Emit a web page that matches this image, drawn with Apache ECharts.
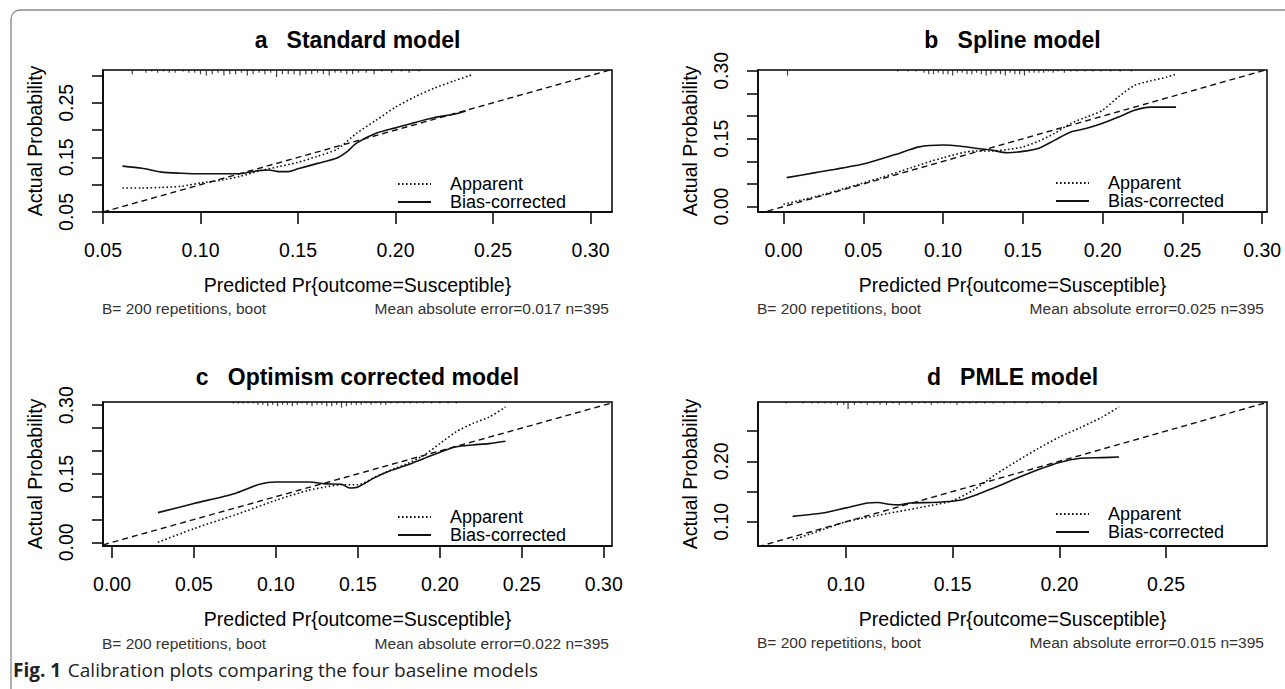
<!DOCTYPE html>
<html>
<head>
<meta charset="utf-8">
<script src="https://cdn.jsdelivr.net/npm/echarts@6/dist/echarts.min.js"></script>
<style>
html,body{margin:0;padding:0;background:#fff;}
#chart{width:1285px;height:689px;}
</style>
</head>
<body>
<div id="chart"></div>
<script>
// ---------- DATA ----------
const titles = ['a   Standard model', 'b   Spline model', 'c   Optimism corrected model', 'd   PMLE model'];
const maeValues = ['0.017', '0.025', '0.022', '0.015'];
const nObs = 395;
const bootReps = 200;

// axis ranges
const xRangeA = [0.05, 0.311], yRangeA = [0.05, 0.31];
const xRangeB = [-0.016, 0.303], yRangeB = [-0.012, 0.302];
const xRangeC = [-0.0055, 0.305], yRangeC = [-0.008, 0.307];
const xRangeD = [0.0588, 0.2973], yRangeD = [0.06, 0.298];

// ticks & labels
const xTicksA = [0.05, 0.10, 0.15, 0.20, 0.25, 0.30];
const yTicksA = [0.05, 0.10, 0.15, 0.20, 0.25, 0.30];
const yLabelsA = [0.05, 0.15, 0.25];
const xTicksB = [0.00, 0.05, 0.10, 0.15, 0.20, 0.25, 0.30];
const yTicksB = [0.00, 0.05, 0.10, 0.15, 0.20, 0.25, 0.30];
const yLabelsB = [0.00, 0.15, 0.30];
const xTicksC = [0.00, 0.05, 0.10, 0.15, 0.20, 0.25, 0.30];
const yTicksC = [0.00, 0.05, 0.10, 0.15, 0.20, 0.25, 0.30];
const yLabelsC = [0.00, 0.15, 0.30];
const xTicksD = [0.10, 0.15, 0.20, 0.25];
const yTicksD = [0.10, 0.15, 0.20, 0.25];
const yLabelsD = [0.10, 0.20];

// ideal lines
const idealA = [[0.05, 0.05], [0.311, 0.311]];
const idealB = [[-0.016, -0.016], [0.303, 0.303]];
const idealC = [[-0.0055, -0.0055], [0.305, 0.305]];
const idealD = [[0.0588, 0.0588], [0.2973, 0.2973]];

// apparent (dotted) and bias-corrected (solid) calibration curves
const apparentA = [[0.06,0.094],[0.07,0.094],[0.08,0.095],[0.09,0.097],[0.10,0.103],[0.11,0.108],[0.12,0.115],[0.13,0.125],[0.14,0.133],[0.15,0.141],[0.16,0.152],[0.17,0.165],[0.18,0.194],[0.19,0.218],[0.20,0.242],[0.21,0.261],[0.22,0.277],[0.23,0.290],[0.239,0.301]];
const biasA = [[0.06,0.134],[0.07,0.130],[0.08,0.123],[0.09,0.121],[0.10,0.120],[0.11,0.120],[0.12,0.120],[0.13,0.126],[0.135,0.127],[0.14,0.124],[0.145,0.124],[0.15,0.129],[0.16,0.139],[0.17,0.149],[0.175,0.160],[0.18,0.176],[0.19,0.194],[0.20,0.204],[0.21,0.214],[0.22,0.223],[0.23,0.229],[0.236,0.235]];

const apparentB = [[0.00,0.005],[0.02,0.022],[0.04,0.042],[0.06,0.063],[0.08,0.086],[0.10,0.108],[0.12,0.123],[0.13,0.123],[0.14,0.126],[0.15,0.132],[0.16,0.145],[0.17,0.162],[0.18,0.184],[0.19,0.198],[0.20,0.213],[0.21,0.243],[0.22,0.268],[0.23,0.278],[0.24,0.286],[0.246,0.293]];
const biasB = [[0.002,0.064],[0.02,0.075],[0.05,0.094],[0.07,0.115],[0.085,0.132],[0.10,0.136],[0.11,0.134],[0.12,0.129],[0.13,0.125],[0.14,0.119],[0.15,0.122],[0.16,0.129],[0.17,0.147],[0.18,0.165],[0.19,0.173],[0.20,0.184],[0.21,0.198],[0.22,0.213],[0.23,0.220],[0.246,0.220]];

const apparentC = [[0.028,0.000],[0.05,0.030],[0.075,0.060],[0.10,0.092],[0.12,0.114],[0.13,0.121],[0.14,0.126],[0.15,0.126],[0.16,0.142],[0.17,0.158],[0.18,0.172],[0.19,0.190],[0.20,0.216],[0.21,0.242],[0.22,0.260],[0.23,0.274],[0.24,0.296]];
const biasC = [[0.028,0.065],[0.05,0.085],[0.075,0.107],[0.09,0.127],[0.10,0.132],[0.12,0.132],[0.13,0.128],[0.14,0.127],[0.145,0.119],[0.15,0.121],[0.16,0.141],[0.17,0.157],[0.18,0.169],[0.19,0.183],[0.20,0.197],[0.21,0.209],[0.22,0.213],[0.23,0.216],[0.24,0.221]];

const apparentD = [[0.075,0.070],[0.09,0.088],[0.10,0.100],[0.12,0.114],[0.14,0.127],[0.15,0.135],[0.16,0.153],[0.17,0.178],[0.18,0.200],[0.19,0.221],[0.20,0.240],[0.21,0.256],[0.22,0.273],[0.228,0.290]];
const biasD = [[0.075,0.109],[0.09,0.115],[0.10,0.123],[0.11,0.131],[0.115,0.132],[0.12,0.129],[0.125,0.128],[0.13,0.131],[0.14,0.132],[0.15,0.134],[0.155,0.137],[0.16,0.143],[0.165,0.150],[0.17,0.157],[0.18,0.172],[0.19,0.186],[0.20,0.198],[0.21,0.205],[0.22,0.206],[0.228,0.207]];

// risk distribution rug along the top: [predicted value, relative count]
const rugA = [[0.065,3],[0.072,2],[0.075,1],[0.078,2],[0.081,1],[0.084,2],[0.087,2],[0.091,1],[0.094,2],[0.097,2],[0.100,3],[0.103,4],[0.106,3],[0.109,2],[0.112,4],[0.115,3],[0.118,3],[0.121,2],[0.124,4],[0.127,3],[0.130,2],[0.133,3],[0.136,2],[0.139,5],[0.142,3],[0.145,3],[0.148,3],[0.151,4],[0.154,3],[0.157,3],[0.160,2],[0.163,3],[0.166,4],[0.169,2],[0.172,2],[0.175,3],[0.178,3],[0.181,2],[0.185,2],[0.189,3],[0.193,1],[0.198,2],[0.203,1],[0.207,2],[0.212,1]];
const rugB = [[0.0025,4],[0.0715,1],[0.078,1],[0.083,1],[0.088,2],[0.091,3],[0.094,3],[0.097,2],[0.100,3],[0.103,3],[0.106,4],[0.109,2],[0.112,2],[0.115,3],[0.118,3],[0.121,2],[0.124,3],[0.127,4],[0.130,3],[0.133,2],[0.136,3],[0.139,4],[0.142,2],[0.145,3],[0.148,3],[0.151,4],[0.154,2],[0.157,2],[0.160,2],[0.163,2],[0.166,1],[0.169,2],[0.172,1],[0.176,2],[0.180,1],[0.184,1],[0.189,1],[0.194,1],[0.199,1],[0.205,1],[0.211,1],[0.218,1]];
const rugC = [[0.074,1],[0.077,1],[0.080,1],[0.083,1],[0.086,1],[0.089,2],[0.092,2],[0.095,3],[0.098,2],[0.101,3],[0.104,2],[0.107,2],[0.110,3],[0.113,2],[0.116,1],[0.119,2],[0.122,3],[0.125,2],[0.128,2],[0.131,3],[0.134,3],[0.137,2],[0.140,4],[0.143,3],[0.146,2],[0.149,2],[0.152,2],[0.155,1],[0.158,2],[0.161,1],[0.164,2],[0.167,2],[0.170,1],[0.174,1],[0.178,1],[0.182,1],[0.186,1],[0.190,1],[0.195,1],[0.200,1],[0.205,1],[0.210,1]];
const rugD = [[0.072,1],[0.080,1],[0.084,1],[0.087,1],[0.090,1],[0.093,1],[0.096,2],[0.099,2],[0.101,5],[0.104,2],[0.107,1],[0.110,2],[0.113,1],[0.116,2],[0.119,2],[0.122,1],[0.125,2],[0.128,1],[0.131,2],[0.134,1],[0.137,1],[0.140,2],[0.143,1],[0.146,1],[0.149,1],[0.152,2],[0.155,1],[0.158,1],[0.161,1],[0.165,1],[0.169,1],[0.174,1],[0.179,1],[0.185,1],[0.192,1],[0.200,1]];

const legendNames = ['Apparent', 'Bias-corrected'];
const xAxisTitle = 'Predicted Pr{outcome=Susceptible}';
const yAxisTitle = 'Actual Probability';
const captionBold = 'Fig. 1';
const captionText = 'Calibration plots comparing the four baseline models';

// ---------- LAYOUT ----------
const FONT = '"Liberation Sans", Arial, sans-serif';
const AX = 19.5;
const panels = [
  {grid:{left:103, top:70, width:509, height:142}, xr:xRangeA, yr:yRangeA, xt:xTicksA, yt:yTicksA, yl:yLabelsA,
   ideal:idealA, app:apparentA, bias:biasA, rug:rugA, legend:{left:397, top:175}, foot:308, titleY:40},
  {grid:{left:758, top:70, width:509, height:142}, xr:xRangeB, yr:yRangeB, xt:xTicksB, yt:yTicksB, yl:yLabelsB,
   ideal:idealB, app:apparentB, bias:biasB, rug:rugB, legend:{left:1055, top:174}, foot:308, titleY:40},
  {grid:{left:103, top:402, width:509, height:144}, xr:xRangeC, yr:yRangeC, xt:xTicksC, yt:yTicksC, yl:yLabelsC,
   ideal:idealC, app:apparentC, bias:biasC, rug:rugC, legend:{left:397, top:508}, foot:643, titleY:377},
  {grid:{left:758, top:402, width:509, height:144}, xr:xRangeD, yr:yRangeD, xt:xTicksD, yt:yTicksD, yl:yLabelsD,
   ideal:idealD, app:apparentD, bias:biasD, rug:rugD, legend:{left:1055, top:505}, foot:642, titleY:377}
];

const grids = [], xAxes = [], yAxes = [], series = [], legends = [], graphics = [];
const axisLineStyle = {color:'#000', width:1.5};

panels.forEach((p, i) => {
  grids.push(Object.assign({show:true, borderColor:'#000', borderWidth:1.5, backgroundColor:'transparent'}, p.grid));
  xAxes.push({
    gridIndex:i, type:'value', min:p.xr[0], max:p.xr[1],
    axisLine:{show:true, onZero:false, lineStyle:axisLineStyle},
    axisTick:{show:true, inside:false, length:12, customValues:p.xt, lineStyle:axisLineStyle},
    axisLabel:{show:true, customValues:p.xt, formatter:v => v.toFixed(2), fontSize:AX, color:'#000', fontFamily:FONT, margin:28},
    splitLine:{show:false},
    name:xAxisTitle, nameLocation:'middle', nameGap:63,
    nameTextStyle:{fontSize:AX, color:'#000', fontFamily:FONT}
  });
  yAxes.push({
    gridIndex:i, type:'value', min:p.yr[0], max:p.yr[1],
    axisLine:{show:true, onZero:false, lineStyle:axisLineStyle},
    axisTick:{show:true, inside:false, length:11, customValues:p.yt, lineStyle:axisLineStyle},
    axisLabel:{show:true, customValues:p.yl, formatter:v => v.toFixed(2), rotate:90, fontSize:AX, color:'#000', fontFamily:FONT, margin:27},
    splitLine:{show:false},
    name:yAxisTitle, nameLocation:'middle', nameGap:58, nameRotate:90,
    nameTextStyle:{fontSize:AX, color:'#000', fontFamily:FONT}
  });
  series.push({type:'line', name:'ideal', xAxisIndex:i, yAxisIndex:i, data:p.ideal, symbol:'none', silent:true,
    lineStyle:{color:'#111', width:1.4, type:[6,4]}, z:2});
  series.push({type:'line', name:legendNames[0], xAxisIndex:i, yAxisIndex:i, data:p.app, symbol:'none', smooth:0.25,
    lineStyle:{color:'#111', width:1.6, type:[1.6,2.4]}, itemStyle:{color:'#111'}, z:3});
  series.push({type:'line', name:legendNames[1], xAxisIndex:i, yAxisIndex:i, data:p.bias, symbol:'none', smooth:0.25,
    lineStyle:{color:'#111', width:1.6, type:'solid'}, itemStyle:{color:'#111'}, z:4});
  series.push({type:'scatter', name:'rug', xAxisIndex:i, yAxisIndex:i, silent:true, clip:false, z:5,
    data:p.rug.map(r => {const h = r[1]*1.4; return {value:[r[0], p.yr[1]], symbol:'rect', symbolSize:[1.2, h], symbolOffset:[0, h/2]};}),
    itemStyle:{color:'#111'}});
  legends.push({
    left:p.legend.left, top:p.legend.top, orient:'vertical', data:legendNames, padding:0,
    itemWidth:33, itemHeight:10, itemGap:0, selectedMode:false, inactiveColor:'#111',
    itemStyle:{color:'rgba(0,0,0,0)', borderColor:'rgba(0,0,0,0)', borderWidth:0, opacity:0},
    textStyle:{fontSize:18, color:'#000', fontFamily:FONT, padding:[0,0,0,14]}
  });
  const cx = p.grid.left + p.grid.width/2;
  graphics.push({type:'text', x:cx, y:p.titleY, style:{text:titles[i], font:'bold 23px ' + FONT, fill:'#000', textAlign:'center', textVerticalAlign:'middle'}});
  graphics.push({type:'text', x:p.grid.left - 1, y:p.foot, style:{text:'B= ' + bootReps + ' repetitions, boot', font:'15.5px ' + FONT, fill:'#333', textAlign:'left', textVerticalAlign:'middle'}});
  graphics.push({type:'text', x:p.grid.left + p.grid.width - 3, y:p.foot, style:{text:'Mean absolute error=' + maeValues[i] + ' n=' + nObs, font:'15.5px ' + FONT, fill:'#333', textAlign:'right', textVerticalAlign:'middle'}});
});

graphics.push({type:'rect', shape:{x:11, y:10, width:1300, height:690, r:9}, style:{fill:'none', stroke:'#888', lineWidth:1.3}, silent:true});
graphics.push({type:'text', x:13, y:670, style:{
  text:'{b|' + captionBold + '}  {n|' + captionText + '}',
  rich:{b:{font:'bold 19px "Open Sans", "Noto Sans", sans-serif', fill:'#222'}, n:{font:'19px "Open Sans", "Noto Sans", sans-serif', fill:'#222'}},
  textVerticalAlign:'middle'}});

const chart = echarts.init(document.getElementById('chart'), null, {renderer:'svg'});
chart.setOption({
  animation:false,
  backgroundColor:'#fff',
  grid:grids, xAxis:xAxes, yAxis:yAxes, series:series, legend:legends, graphic:graphics
});
</script>
</body>
</html>
